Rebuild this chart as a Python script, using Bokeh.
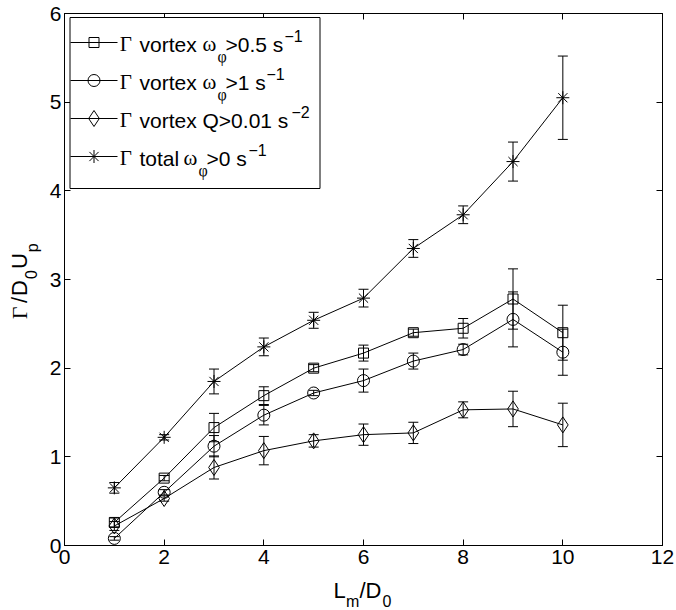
import numpy as np
from bokeh.plotting import figure
from bokeh.layouts import column, row
from bokeh.models import (Range1d, LinearAxis, FixedTicker, Whisker, TeeHead,
                          ColumnDataSource, BoxAnnotation, Label)
from bokeh.embed import file_html
from bokeh.resources import INLINE

# ---------------- data ----------------
lm_d0 = [1, 2, 3, 4, 5, 6, 7, 8, 9, 10]

g_vortex_05 = [0.26, 0.76, 1.33, 1.69, 2.00, 2.17, 2.40, 2.45, 2.78, 2.40]
e_vortex_05 = [0.05, 0.03, 0.16, 0.10, 0.04, 0.09, 0.04, 0.11, 0.34, 0.31]

g_vortex_1 = [0.08, 0.60, 1.12, 1.47, 1.72, 1.86, 2.08, 2.21, 2.55, 2.18]
e_vortex_1 = [0.02, 0.03, 0.12, 0.11, 0.03, 0.13, 0.09, 0.06, 0.31, 0.26]

g_vortex_q = [0.22, 0.53, 0.88, 1.07, 1.18, 1.25, 1.27, 1.53, 1.54, 1.36]
e_vortex_q = [0.05, 0.03, 0.13, 0.16, 0.07, 0.12, 0.12, 0.09, 0.20, 0.245]

g_total = [0.65, 1.22, 1.85, 2.24, 2.54, 2.79, 3.35, 3.73, 4.33, 5.05]
e_total = [0.06, 0.03, 0.14, 0.10, 0.09, 0.10, 0.10, 0.10, 0.22, 0.47]

x_ticks = [0, 2, 4, 6, 8, 10, 12]
y_ticks = [0, 1, 2, 3, 4, 5, 6]

# ---------------- layout ----------------
W, H = 676, 610
YLAB_W = 42                 # strip on the left holding the y label
FL, FT, FW = 64, 13, 598
FB = 545                    # frame bottom (pixels from top)
MAIN_H = 577                # main figure height (tick labels live below the frame)
XLAB_H = H - MAIN_H         # strip below holding the x label
XMIN, XMAX, YMIN, YMAX = 0, 12, 0, 6
SANS = "Liberation Sans"
SERIF = "Liberation Serif"


def dx(px):
    return XMIN + (px - FL) / FW * (XMAX - XMIN)


def dy(py):
    return YMIN + (FB - py) / (FB - FT) * (YMAX - YMIN)


p = figure(width=W - YLAB_W, height=MAIN_H,
           x_range=Range1d(XMIN, XMAX), y_range=Range1d(YMIN, YMAX),
           output_backend="svg", toolbar_location=None,
           min_border_left=FL - YLAB_W, min_border_right=W - FL - FW,
           min_border_top=FT, min_border_bottom=MAIN_H - FB)
p.background_fill_color = "white"
p.border_fill_color = "white"
p.outline_line_color = "black"
p.outline_line_width = 1
p.xgrid.visible = False
p.ygrid.visible = False


def style_axis(ax, ticks, show_labels=True):
    ax.ticker = FixedTicker(ticks=ticks)
    ax.axis_line_color = "black"
    ax.axis_line_width = 1
    ax.major_tick_line_color = "black"
    ax.major_tick_in = 6
    ax.major_tick_out = 0
    ax.minor_tick_line_color = None
    ax.major_label_text_font = SANS
    if show_labels:
        ax.major_label_text_font_size = "21px"
        ax.major_label_text_color = "black"
    else:
        ax.major_label_text_font_size = "0px"
        ax.major_label_text_color = None
        ax.major_label_standoff = 0


style_axis(p.xaxis[0], x_ticks)
style_axis(p.yaxis[0], y_ticks)
p.xaxis[0].major_label_standoff = 4
p.yaxis[0].major_label_standoff = 3

top_ax = LinearAxis()
style_axis(top_ax, x_ticks, show_labels=False)
p.add_layout(top_ax, "above")
right_ax = LinearAxis()
style_axis(right_ax, y_ticks, show_labels=False)
p.add_layout(right_ax, "right")

# ---------------- series ----------------
series = [
    (g_vortex_05, e_vortex_05, "square", 10),
    (g_vortex_1, e_vortex_1, "circle", 12),
    (g_vortex_q, e_vortex_q, "diamond", 16),
    (g_total, e_total, "asterisk", 13),
]

for vals, errs, marker, size in series:
    src = ColumnDataSource(dict(
        x=lm_d0, y=vals,
        upper=[v + e for v, e in zip(vals, errs)],
        lower=[v - e for v, e in zip(vals, errs)]))
    p.line("x", "y", source=src, line_color="black", line_width=1)
    p.add_layout(Whisker(base="x", upper="upper", lower="lower", source=src,
                         line_color="black", line_width=1,
                         upper_head=TeeHead(size=10, line_color="black", line_width=1),
                         lower_head=TeeHead(size=10, line_color="black", line_width=1)))
    p.scatter("x", "y", source=src, marker=marker, size=size,
              fill_color=None, line_color="black", line_width=1)

# ---------------- legend (drawn by hand for sub/superscripts) ----------------
p.add_layout(BoxAnnotation(left=dx(69.5), right=dx(319.5), top=dy(17), bottom=dy(188),
                           fill_color="white", fill_alpha=1.0,
                           line_color="black", line_alpha=1.0, line_width=1))

row_line_y = [42, 80, 118, 156]
MAIN, SMALL = 21, 16
SUB, SUP = 12, -8

legend_rows = [
    [(119.3, "Γ", SERIF, MAIN, 0), (139, "vortex", SANS, MAIN, 0),
     (202, "ω", SERIF, MAIN, 0), (217, "φ", SERIF, SMALL, SUB),
     (225, ">0.5 s", SANS, MAIN, 0), (284, "−1", SANS, SMALL, SUP)],
    [(119.3, "Γ", SERIF, MAIN, 0), (139, "vortex", SANS, MAIN, 0),
     (202, "ω", SERIF, MAIN, 0), (217, "φ", SERIF, SMALL, SUB),
     (225, ">1 s", SANS, MAIN, 0), (266, "−1", SANS, SMALL, SUP)],
    [(119.3, "Γ", SERIF, MAIN, 0), (139, "vortex Q>0.01 s", SANS, MAIN, 0),
     (291, "−2", SANS, SMALL, SUP)],
    [(119.3, "Γ", SERIF, MAIN, 0), (139, "total", SANS, MAIN, 0),
     (183, "ω", SERIF, MAIN, 0), (198, "φ", SERIF, SMALL, SUB),
     (206, ">0 s", SANS, MAIN, 0), (248, "−1", SANS, SMALL, SUP)],
]

for (vals, errs, marker, size), ly, parts in zip(series, row_line_y, legend_rows):
    p.line([dx(70), dx(117)], [dy(ly), dy(ly)], line_color="black", line_width=1,
           level="overlay")
    p.scatter([dx(93.5)], [dy(ly)], marker=marker, size=size, fill_color=None,
              line_color="black", line_width=1, level="overlay")
    base = ly + 1.5
    for px, txt, font, fs, shift in parts:
        p.add_layout(Label(x=dx(px), y=dy(base + shift), text=txt, text_font=font,
                           text_font_size=f"{fs}px", text_color="black",
                           text_align="left", text_baseline="alphabetic"))


def strip(w, h):
    f = figure(width=w, height=h, x_range=Range1d(0, w), y_range=Range1d(h, 0),
               output_backend="svg", toolbar_location=None,
               x_axis_type=None, y_axis_type=None,
               min_border=0, min_border_left=0, min_border_right=0,
               min_border_top=0, min_border_bottom=0)
    f.outline_line_color = None
    f.background_fill_color = "white"
    f.border_fill_color = "white"
    f.xgrid.visible = False
    f.ygrid.visible = False
    return f


# ---------------- y label strip (text centred on the given x) ----------------
ylab = strip(YLAB_W, MAIN_H)
for py, txt, font, fs, cx in [(331.5, "Γ", SERIF, 22, 18.5), (314, "/", SANS, 22, 18.5),
                              (306.5, "D", SANS, 22, 18.5), (288, "0", SANS, SMALL, 30),
                              (277, "U", SANS, 22, 18.5), (259, "p", SANS, SMALL, 32)]:
    ylab.add_layout(Label(x=cx, y=py, text=txt, text_font=font,
                          text_font_size=f"{fs}px", text_color="black", angle=np.pi / 2,
                          text_align="left", text_baseline="middle"))

# ---------------- x label strip (text centred on the given page y) ----------------
xlab = strip(W, XLAB_H)
for px, txt, fs, cy in [(333, "L", 22, 590), (345.5, "m", SMALL, 600.5),
                        (359, "/D", 22, 590), (382, "0", SMALL, 600.5)]:
    xlab.add_layout(Label(x=px, y=cy - MAIN_H, text=txt, text_font=SANS,
                          text_font_size=f"{fs}px", text_color="black",
                          text_align="left", text_baseline="middle"))

layout = column(row(ylab, p, spacing=0), xlab, spacing=0)
open("out.html", "w").write(file_html(layout, INLINE))
